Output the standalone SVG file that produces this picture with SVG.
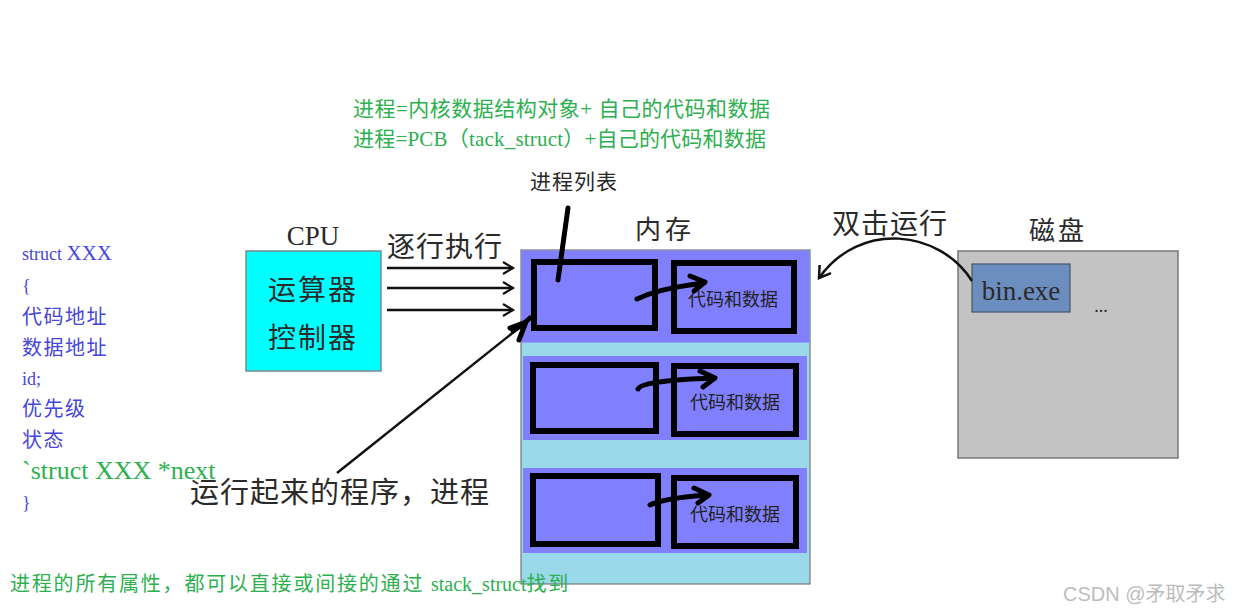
<svg xmlns="http://www.w3.org/2000/svg" width="1249" height="613" viewBox="0 0 1249 613">
<defs>
<style>
.g{fill:#2EAF50;font-family:"Liberation Serif","Noto Sans CJK SC",serif}
.b{fill:#4646D8;font-family:"Liberation Serif","Noto Sans CJK SC",serif;font-size:18px}
.bc{font-size:20px;letter-spacing:1.5px}
.k{fill:#2a2a2a;font-family:"Liberation Serif","Noto Sans CJK SC",serif}
.blk{fill:none;stroke:#000;stroke-width:6}
.hand{fill:none;stroke:#000;stroke-width:5;stroke-linecap:round;stroke-linejoin:round}
.cd{fill:#222;font-family:"Liberation Serif","Noto Sans CJK SC",serif;font-size:18px}
</style>
<marker id="chev" markerWidth="14" markerHeight="14" refX="11" refY="7" orient="auto" markerUnits="userSpaceOnUse">
<path d="M1,1 L11,7 L1,13" fill="none" stroke="#111" stroke-width="2.2"/>
</marker>
<marker id="curvehead" markerWidth="16" markerHeight="16" refX="13" refY="8" orient="auto" markerUnits="userSpaceOnUse">
<path d="M2,1 L13,8 L2,15" fill="none" stroke="#111" stroke-width="2.5"/>
</marker>
</defs>
<rect width="1249" height="613" fill="#fff"/>

<g id="title-notes">
<text class="g" x="353" y="116" font-size="21" letter-spacing="0.5">进程=内核数据结构对象+ 自己的代码和数据</text>
<text class="g" x="353" y="146" font-size="21" letter-spacing="0.2">进程=PCB（tack_struct）+自己的代码和数据</text>
<text class="k" x="530" y="189" font-size="21" letter-spacing="1" fill="#111">进程列表</text>
</g>

<g id="struct-code">
<text class="b" x="22" y="260">struct <tspan font-size="21">XXX</tspan></text>
<text class="b" x="22" y="292">{</text>
<text class="b bc" x="22" y="324">代码地址</text>
<text class="b bc" x="22" y="355">数据地址</text>
<text class="b" x="22" y="385">id;</text>
<text class="b bc" x="22" y="416">优先级</text>
<text class="b bc" x="22" y="447">状态</text>
<text class="g" x="22" y="479" font-size="26">`struct XXX *next</text>
<text class="b" x="22" y="509">}</text>
</g>

<g id="cpu">
<text class="k" x="313" y="245" font-size="27" text-anchor="middle">CPU</text>
<rect x="246" y="251" width="135" height="120" fill="#00FFFF" stroke="#7a8a8a" stroke-width="1.5"/>
<text class="k" x="313" y="300" font-size="28" text-anchor="middle" letter-spacing="2">运算器</text>
<text class="k" x="313" y="348" font-size="28" text-anchor="middle" letter-spacing="2">控制器</text>
</g>

<g id="memory">
<text class="k" x="665" y="239" font-size="26" text-anchor="middle" letter-spacing="4">内存</text>
<rect x="521" y="250" width="289" height="334" fill="#99D9EA" stroke="#777" stroke-width="1.2"/>
<rect x="521.6" y="250.6" width="287.8" height="92" fill="#8080FF"/>
<rect x="523" y="356" width="284" height="84" fill="#8080FF"/>
<rect x="523" y="468" width="284" height="85" fill="#8080FF"/>
<rect class="blk" x="534" y="262" width="121" height="66"/>
<rect class="blk" x="674" y="263" width="120" height="68"/>
<text class="cd" x="733" y="306" text-anchor="middle">代码和数据</text>
<rect class="blk" x="533" y="365" width="123" height="66"/>
<rect class="blk" x="674" y="366" width="122" height="68"/>
<text class="cd" x="735" y="409" text-anchor="middle">代码和数据</text>
<rect class="blk" x="533" y="476" width="125" height="68"/>
<rect class="blk" x="674" y="478" width="122" height="68"/>
<text class="cd" x="735" y="521" text-anchor="middle">代码和数据</text>
</g>

<g id="disk">
<text class="k" x="1058" y="240" font-size="26" text-anchor="middle" letter-spacing="3">磁盘</text>
<rect x="958" y="251" width="220" height="207" fill="#C3C3C3" stroke="#777" stroke-width="1.5"/>
<rect x="972" y="264" width="98" height="48" fill="#6C8EBF" stroke="#46566e" stroke-width="1.2"/>
<text class="k" x="1021" y="300" font-size="27" text-anchor="middle" fill="#1a2030">bin.exe</text>
<text class="k" x="1101" y="312" font-size="18" text-anchor="middle">...</text>
</g>

<g id="labels">
<text class="k" x="387" y="257" font-size="28" letter-spacing="1">逐行执行</text>
<text class="k" x="832" y="234" font-size="28" letter-spacing="1">双击运行</text>
<text class="k" x="190" y="503" font-size="29" letter-spacing="1">运行起来的程序，进程</text>
<text class="g" x="10" y="591" font-size="20"><tspan letter-spacing="1.8">进程的所有属性，都可以直接或间接的通过 </tspan>stack_struct<tspan letter-spacing="1.8">找到</tspan></text>
<text x="1063" y="601" font-size="20" fill="#bdbdbd" font-family="'Liberation Sans','Noto Sans CJK SC',sans-serif">CSDN @矛取矛求</text>
</g>

<g id="connectors">
<line x1="387" y1="268" x2="513" y2="268" stroke="#111" stroke-width="2.5" marker-end="url(#chev)"/>
<line x1="387" y1="288" x2="513" y2="288" stroke="#111" stroke-width="2.5" marker-end="url(#chev)"/>
<line x1="387" y1="310" x2="513" y2="310" stroke="#111" stroke-width="2.5" marker-end="url(#chev)"/>
<path d="M972,281 C940,230 860,220 819,278" fill="none" stroke="#111" stroke-width="2.5" marker-end="url(#curvehead)"/>
<path class="hand" d="M568,208 L558,280"/>
<line x1="337" y1="473" x2="520" y2="327" stroke="#111" stroke-width="2.5"/>
<path class="hand" d="M510,328 L526,322 L513,331 M526,322 L519,340 M521,326 L530,318"/>
<path class="hand" d="M637,299 C650,293 665,288 704,283 M690,276 L705,282 L694,291"/>
<path class="hand" d="M638,389 C640,384 660,380 714,378 M700,371 L715,378 L703,387"/>
<path class="hand" d="M650,505 C660,500 680,497 708,495 M694,488 L709,495 L698,503"/>
</g>
</svg>
